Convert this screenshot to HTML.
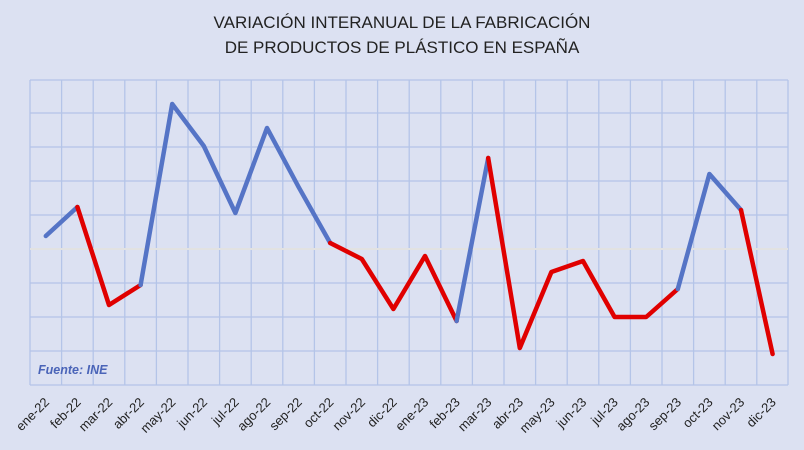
<!DOCTYPE html>
<html><head><meta charset="utf-8"><style>
body{margin:0;background:#dce1f2;}
svg{display:block;font-family:"Liberation Sans",sans-serif;}
</style></head><body>
<svg width="804" height="450" viewBox="0 0 804 450">
<rect width="804" height="450" fill="#dce1f2"/>
<text x="402" y="28" text-anchor="middle" font-size="17" fill="#222">VARIACIÓN INTERANUAL DE LA FABRICACIÓN</text>
<text x="402" y="53" text-anchor="middle" font-size="17" fill="#222">DE PRODUCTOS DE PLÁSTICO EN ESPAÑA</text>
<g stroke="#b4c4e8" stroke-width="1.3" fill="none">
<path d="M30 80H788M30 113H788M30 147H788M30 181H788M30 215H788M30 283H788M30 317H788M30 351H788M30 385H788"/>
<path d="M30 80V385M61.6 80V385M93.2 80V385M124.8 80V385M156.4 80V385M188 80V385M219.6 80V385M251.2 80V385M282.8 80V385M314.4 80V385M346 80V385M377.6 80V385M409.2 80V385M440.8 80V385M472.4 80V385M504 80V385M535.6 80V385M567.2 80V385M598.8 80V385M630.4 80V385M662 80V385M693.6 80V385M725.2 80V385M756.8 80V385M788 80V385"/>
</g>
<path d="M30 249H788" stroke="#e2e2e2" stroke-width="2"/>
<g fill="none" stroke-width="4.5" stroke-linejoin="round" stroke-linecap="round">
<polyline stroke="#5574c6" points="45.8,236 77.4,207"/>
<polyline stroke="#e00000" points="77.4,207 109,305 140.6,285"/>
<polyline stroke="#5574c6" points="140.6,285 172.2,104 203.8,146 235.4,213 267,128 298.6,187 330.2,243"/>
<polyline stroke="#e00000" points="330.2,243 361.8,259 393.4,309 425,256 456.6,321"/>
<polyline stroke="#5574c6" points="456.6,321 488.2,158"/>
<polyline stroke="#e00000" points="488.2,158 519.8,348 551.4,272 583,261 614.6,317 646.2,317 677.8,289"/>
<polyline stroke="#5574c6" points="677.8,289 709.4,174 741,210"/>
<polyline stroke="#e00000" points="741,210 772.6,354"/>
</g>
<text x="38" y="374" font-size="12.5" font-weight="bold" font-style="italic" fill="#4a64b8">Fuente: INE</text>
<g font-size="13" fill="#222" text-anchor="end">
<text transform="translate(50,403) rotate(-45)">ene-22</text>
<text transform="translate(81.6,403) rotate(-45)">feb-22</text>
<text transform="translate(113.2,403) rotate(-45)">mar-22</text>
<text transform="translate(144.8,403) rotate(-45)">abr-22</text>
<text transform="translate(176.4,403) rotate(-45)">may-22</text>
<text transform="translate(208,403) rotate(-45)">jun-22</text>
<text transform="translate(239.6,403) rotate(-45)">jul-22</text>
<text transform="translate(271.2,403) rotate(-45)">ago-22</text>
<text transform="translate(302.8,403) rotate(-45)">sep-22</text>
<text transform="translate(334.4,403) rotate(-45)">oct-22</text>
<text transform="translate(366,403) rotate(-45)">nov-22</text>
<text transform="translate(397.6,403) rotate(-45)">dic-22</text>
<text transform="translate(429.2,403) rotate(-45)">ene-23</text>
<text transform="translate(460.8,403) rotate(-45)">feb-23</text>
<text transform="translate(492.4,403) rotate(-45)">mar-23</text>
<text transform="translate(524,403) rotate(-45)">abr-23</text>
<text transform="translate(555.6,403) rotate(-45)">may-23</text>
<text transform="translate(587.2,403) rotate(-45)">jun-23</text>
<text transform="translate(618.8,403) rotate(-45)">jul-23</text>
<text transform="translate(650.4,403) rotate(-45)">ago-23</text>
<text transform="translate(682,403) rotate(-45)">sep-23</text>
<text transform="translate(713.6,403) rotate(-45)">oct-23</text>
<text transform="translate(745.2,403) rotate(-45)">nov-23</text>
<text transform="translate(776.8,403) rotate(-45)">dic-23</text>
</g>
</svg>
</body></html>
